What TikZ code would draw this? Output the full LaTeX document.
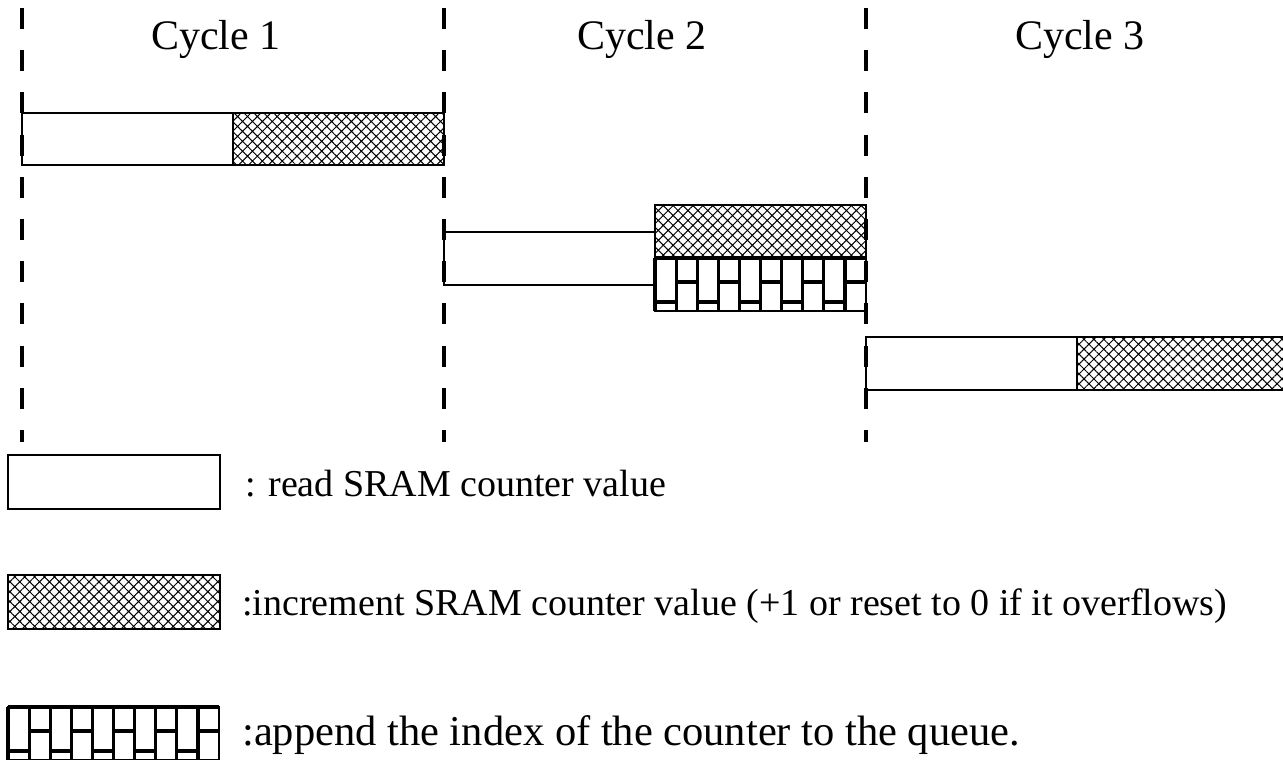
\documentclass[tikz,border=0pt]{standalone}
\usepackage{fontspec}
\setmainfont{Liberation Serif}
\usetikzlibrary{patterns.meta,calc}
\tikzset{
  base/.style={inner sep=0pt, outer sep=0pt, anchor=north west, line width=1.2pt},
  readbox/.style={base, draw, fill=white},
  hatchbox/.style={base, draw, pattern={Hatch[angle=45,distance=7pt,line width=1pt]}},
  brickbox/.style={base, draw, fill=white, minimum width=211pt, minimum height=53pt},
  brickline/.style={line width=3.2pt},
  cycdash/.style={line width=4.5pt, dash pattern=on 21pt off 21.2pt},
  cyclabel/.style={font=\fontsize{42}{46}\selectfont, anchor=base},
  legtext/.style={font=\fontsize{38}{42}\selectfont, anchor=base west, inner sep=0pt}
}
\newcommand{\bricklines}[1]{%
  \foreach \i in {0,...,9}{
    \pgfmathsetmacro\xx{\i*21.1}
    \pgfmathsetmacro\xe{\xx+21.1}
    \pgfmathsetmacro\yy{mod(\i,2)==0 ? 44 : 24}
    \draw[brickline] ($(#1.north west)+(\xx,0)$) -- ($(#1.north west)+(\xx,53)$);
    \draw[brickline] ($(#1.north west)+(\xx,\yy)$) -- ($(#1.north west)+(\xe,\yy)$);
  }
  \draw[brickline] (#1.north west) -- (#1.north east);
}
\begin{document}
\begin{tikzpicture}[x=1pt,y=-1pt]
\useasboundingbox (0,0) rectangle (1283,760);

% cycle labels
\node[cyclabel] (c1) at (216,50) {Cycle 1};
\node[cyclabel] (c2) at (642,50) {Cycle 2};
\node[cyclabel] (c3) at (1080,50) {Cycle 3};

% cycle 1
\node[readbox, minimum width=211pt, minimum height=52pt] (r1) at (22,113) {};
\node[hatchbox, minimum width=211pt, minimum height=52pt] (h1) at (233,113) {};

% cycle 2
\node[readbox, minimum width=211pt, minimum height=53pt] (r2) at (444,232) {};
\node[hatchbox, minimum width=211pt, minimum height=53pt] (h2) at (655,205) {};
\node[brickbox] (b2) at (655,258) {};
\bricklines{b2}

% cycle 3
\node[readbox, minimum width=211pt, minimum height=53pt] (r3) at (866,337) {};
\node[hatchbox, minimum width=215pt, minimum height=53pt] (h3) at (1077,337) {};

% dashed cycle boundaries
\coordinate (d1t) at (22,8);   \coordinate (d1b) at (22,442);
\coordinate (d2t) at (444,8);  \coordinate (d2b) at (444,442);
\coordinate (d3t) at (866,8);  \coordinate (d3b) at (866,442);
\draw[cycdash] (d1t) -- (d1b);
\draw[cycdash] (d2t) -- (d2b);
\draw[cycdash] (d3t) -- (d3b);

% legend
\node[readbox, minimum width=212pt, minimum height=54pt] (lr) at (8,455) {};
\node[legtext] (lrt) at (245,496) {: read SRAM counter value};
\node[hatchbox, minimum width=212pt, minimum height=54pt] (lh) at (8,575) {};
\node[legtext] (lht) at (242,615) {:increment SRAM counter value (+1 or reset to 0 if it overflows)};
\node[brickbox] (lb) at (8,707) {};
\bricklines{lb}
\node[legtext, font=\fontsize{42.5}{45}\selectfont] (lbt) at (242,745) {:append the index of the counter to the queue.};
\end{tikzpicture}
\end{document}
